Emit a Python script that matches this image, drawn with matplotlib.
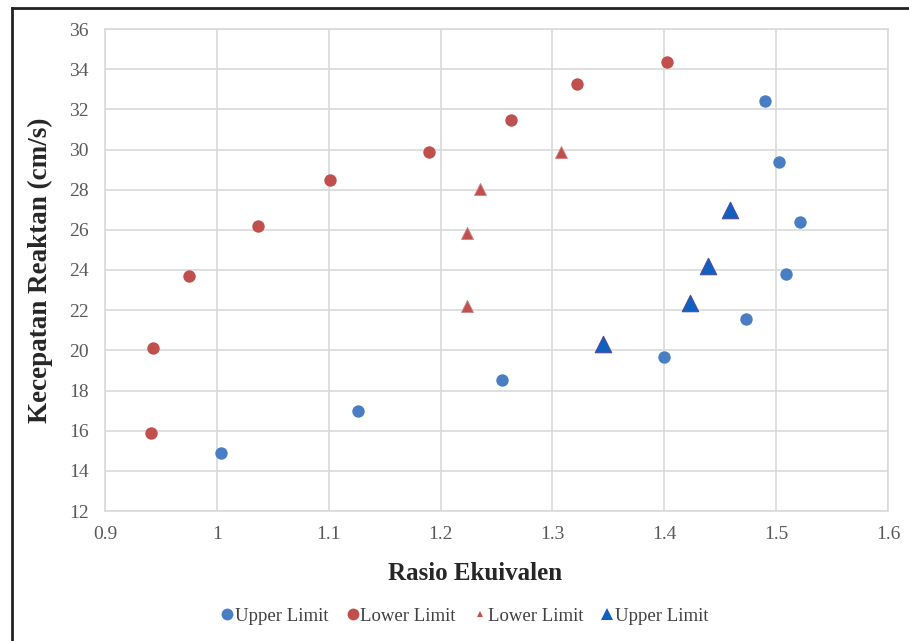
import matplotlib
matplotlib.use("Agg")
import matplotlib.pyplot as plt
from matplotlib.lines import Line2D

# Data
upper_circ_x = [1.004, 1.126, 1.255, 1.400, 1.473, 1.509, 1.521, 1.503, 1.490]
upper_circ_y = [14.89, 17.00, 18.54, 19.67, 21.55, 23.81, 26.38, 29.39, 32.43]

lower_circ_x = [0.941, 0.943, 0.975, 1.037, 1.101, 1.190, 1.263, 1.322, 1.402]
lower_circ_y = [15.86, 20.14, 23.69, 26.20, 28.46, 29.87, 31.47, 33.24, 34.34]

lower_tri_x = [1.224, 1.224, 1.235, 1.308]
lower_tri_y = [22.20, 25.82, 28.03, 29.89]

upper_tri_x = [1.345, 1.423, 1.439, 1.459]
upper_tri_y = [20.30, 22.36, 24.19, 26.98]

xticks = [0.9, 1.0, 1.1, 1.2, 1.3, 1.4, 1.5, 1.6]
xtick_labels = ["0.9", "1", "1.1", "1.2", "1.3", "1.4", "1.5", "1.6"]
yticks = list(range(12, 37, 2))

plt.rcParams['font.family'] = ['Liberation Serif', 'DejaVu Serif']

fig = plt.figure(figsize=(9.09, 6.41), dpi=100)
fig.patch.set_facecolor('white')
ax = fig.add_axes([105/909, 1 - 511/641, (888-105)/909, (511-29)/641])

c_blue = '#4A7EC4'
c_red = '#C0504D'
c_blue_tri = '#1060C0'

ax.scatter(upper_circ_x, upper_circ_y, s=80, color=c_blue, marker='o', zorder=3, linewidths=0)
ax.scatter(lower_circ_x, lower_circ_y, s=80, color=c_red, marker='o', zorder=3, linewidths=0)
ax.scatter(lower_tri_x, lower_tri_y, s=75, color=c_red, marker='^', zorder=3,
           edgecolors='#D08080', linewidths=0.6)
ax.scatter(upper_tri_x, upper_tri_y, s=140, color=c_blue_tri, marker='^', zorder=3,
           edgecolors='#4A4AA0', linewidths=0.8)

ax.set_xlim(0.9, 1.6)
ax.set_ylim(12, 36)
ax.set_xticks(xticks)
ax.set_xticklabels(xtick_labels)
ax.set_yticks(yticks)
ax.grid(True, color='#D9D9D9', linewidth=1.2, zorder=0)
ax.set_axisbelow(True)
for sp in ax.spines.values():
    sp.set_color('#D9D9D9')
    sp.set_linewidth(1.2)
ax.tick_params(axis='both', length=0, labelsize=14, colors='#595959')
ax.tick_params(axis='x', pad=11)
ax.tick_params(axis='y', pad=11.5)

ax.set_xlabel('Rasio Ekuivalen', fontsize=18, fontweight='bold', color='#262626')
ax.xaxis.set_label_coords((475 - 105) / 783, -(574 - 511) / 482)
ax.xaxis.label.set_verticalalignment('center')
ax.set_ylabel('Kecepatan Reaktan (cm/s)', fontsize=19.5, fontweight='bold', color='#262626', labelpad=12)

handles = [
    Line2D([], [], linestyle='none', marker='o', markersize=8.5, color=c_blue, markeredgewidth=0),
    Line2D([], [], linestyle='none', marker='o', markersize=8.5, color=c_red, markeredgewidth=0),
    Line2D([], [], linestyle='none', marker='^', markersize=5, color=c_red, markeredgewidth=0),
    Line2D([], [], linestyle='none', marker='^', markersize=9, color=c_blue_tri, markeredgewidth=0),
]
labels = ['Upper Limit', 'Lower Limit', 'Lower Limit', 'Upper Limit']
leg = fig.legend(handles, labels, loc='center', bbox_to_anchor=(465/909, 1 - 616/641),
                 ncol=4, frameon=False, fontsize=13.5, handlelength=0.6, handletextpad=0.1,
                 columnspacing=1.0, labelcolor='#404040')

# outer frame (cropped screenshot border)
fig.add_artist(Line2D([12/909, 12/909], [0, 1 - 8/641], transform=fig.transFigure,
                      color='#222222', linewidth=2))
fig.add_artist(Line2D([12/909, 1], [1 - 8/641, 1 - 8/641], transform=fig.transFigure,
                      color='#222222', linewidth=2))

fig.savefig('out.png', dpi=100)
